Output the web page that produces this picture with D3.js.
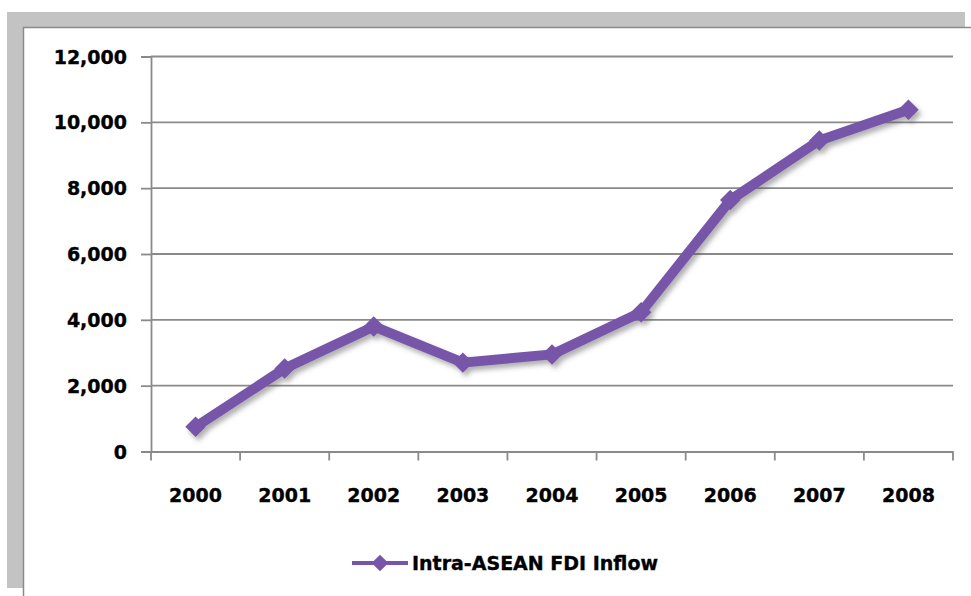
<!DOCTYPE html>
<html>
<head>
<meta charset="utf-8">
<script src="https://cdn.jsdelivr.net/npm/d3@7"></script>
<style>
  html, body { margin: 0; padding: 0; background: #fff; }
  svg { display: block; }
  text { font-family: "DejaVu Sans", Verdana, sans-serif; font-weight: bold; fill: #000; stroke: #000; stroke-width: 0.35px; }
</style>
</head>
<body>
<svg id="chart" width="971" height="596"></svg>
<script>
const years = ["2000", "2001", "2002", "2003", "2004", "2005", "2006", "2007", "2008"];
const fdiInflow = [750, 2520, 3800, 2700, 2950, 4230, 7640, 9450, 10380];
const yTicks = [0, 2000, 4000, 6000, 8000, 10000, 12000];
const seriesName = "Intra-ASEAN FDI Inflow";

(function () {
const svg = d3.select("#chart");
const W = 971, H = 596;
const purple = "#7755a8";

// frame
svg.append("rect").attr("x", 7).attr("y", 12).attr("width", 958).attr("height", 15).attr("fill", "#c3c3c3");
svg.append("rect").attr("x", 7).attr("y", 12).attr("width", 16).attr("height", 576).attr("fill", "#c3c3c3");
svg.append("line").attr("x1", 23).attr("x2", W).attr("y1", 27.5).attr("y2", 27.5).attr("stroke", "#8a8a8a").attr("stroke-width", 1.5);
svg.append("line").attr("x1", 23.5).attr("x2", 23.5).attr("y1", 27).attr("y2", H).attr("stroke", "#8a8a8a").attr("stroke-width", 1.5);

const defs = svg.append("defs");
const f = defs.append("filter").attr("id", "shadow").attr("x", "-20%").attr("y", "-20%").attr("width", "140%").attr("height", "140%");
f.append("feDropShadow").attr("dx", 3).attr("dy", 4).attr("stdDeviation", 2.5)
  .attr("flood-color", "#555").attr("flood-opacity", 0.45);

const pLeft = 151, pRight = 953, pTop = 56.5, pBottom = 451.5;

const x = d3.scaleBand().domain(years).range([pLeft, pRight]).padding(0);
const y = d3.scaleLinear().domain([0, 12000]).range([pBottom, pTop]);

// gridlines
svg.append("g").selectAll("line").data(yTicks.filter(d => d > 0)).join("line")
  .attr("x1", pLeft).attr("x2", pRight)
  .attr("y1", d => y(d)).attr("y2", d => y(d))
  .attr("stroke", "#8a8a8a").attr("stroke-width", 1.8);

// y axis
const yAxis = d3.axisLeft(y).tickValues(yTicks).tickSize(10).tickPadding(14)
  .tickFormat(d3.format(","));
const gy = svg.append("g").attr("transform", `translate(${pLeft},0)`).call(yAxis);
gy.select(".domain").attr("stroke", "#8a8a8a").attr("stroke-width", 1.8);
gy.selectAll(".tick line").attr("stroke", "#8a8a8a").attr("stroke-width", 1.8);
gy.selectAll(".tick text").attr("font-size", 19).attr("font-family", "DejaVu Sans").attr("font-weight", "bold").attr("fill", "#000").attr("dy", "0.35em");

// x axis
const xAxis = d3.axisBottom(x).tickSize(0).tickPadding(37);
const gx = svg.append("g").attr("transform", `translate(0,${pBottom})`).call(xAxis);
gx.select(".domain").attr("stroke", "#8a8a8a").attr("stroke-width", 1.8);
gx.selectAll(".tick text").attr("font-size", 19).attr("font-family", "DejaVu Sans").attr("font-weight", "bold").attr("fill", "#000");
// boundary tick marks
const bounds = years.map(d => x(d)).concat([pRight]);
svg.append("g").selectAll("line").data(bounds).join("line")
  .attr("x1", d => d).attr("x2", d => d).attr("y1", pBottom).attr("y2", pBottom + 9)
  .attr("stroke", "#8a8a8a").attr("stroke-width", 1.8);

// series
const cx = d => x(d) + x.bandwidth() / 2;
const pts = years.map((yr, i) => [cx(yr), y(fdiInflow[i])]);
const g = svg.append("g").attr("filter", "url(#shadow)");
g.append("path").attr("d", d3.line()(pts))
  .attr("fill", "none").attr("stroke", purple).attr("stroke-width", 10)
  .attr("stroke-linejoin", "round");
const diamond = d3.symbol().type(d3.symbolSquare).size(210);
g.selectAll("path.m").data(pts).join("path").attr("class", "m")
  .attr("d", diamond())
  .attr("transform", d => `translate(${d[0]},${d[1]}) rotate(45)`)
  .attr("fill", purple);

// legend
const lg = svg.append("g");
lg.append("line").attr("x1", 352).attr("x2", 408).attr("y1", 563).attr("y2", 563)
  .attr("stroke", purple).attr("stroke-width", 4);
lg.append("path").attr("d", d3.symbol().type(d3.symbolSquare).size(140)())
  .attr("transform", "translate(380,563) rotate(45)").attr("fill", purple);
lg.append("text").attr("x", 412).attr("y", 570).attr("font-size", 19).text(seriesName);
})();
</script>
</body>
</html>
